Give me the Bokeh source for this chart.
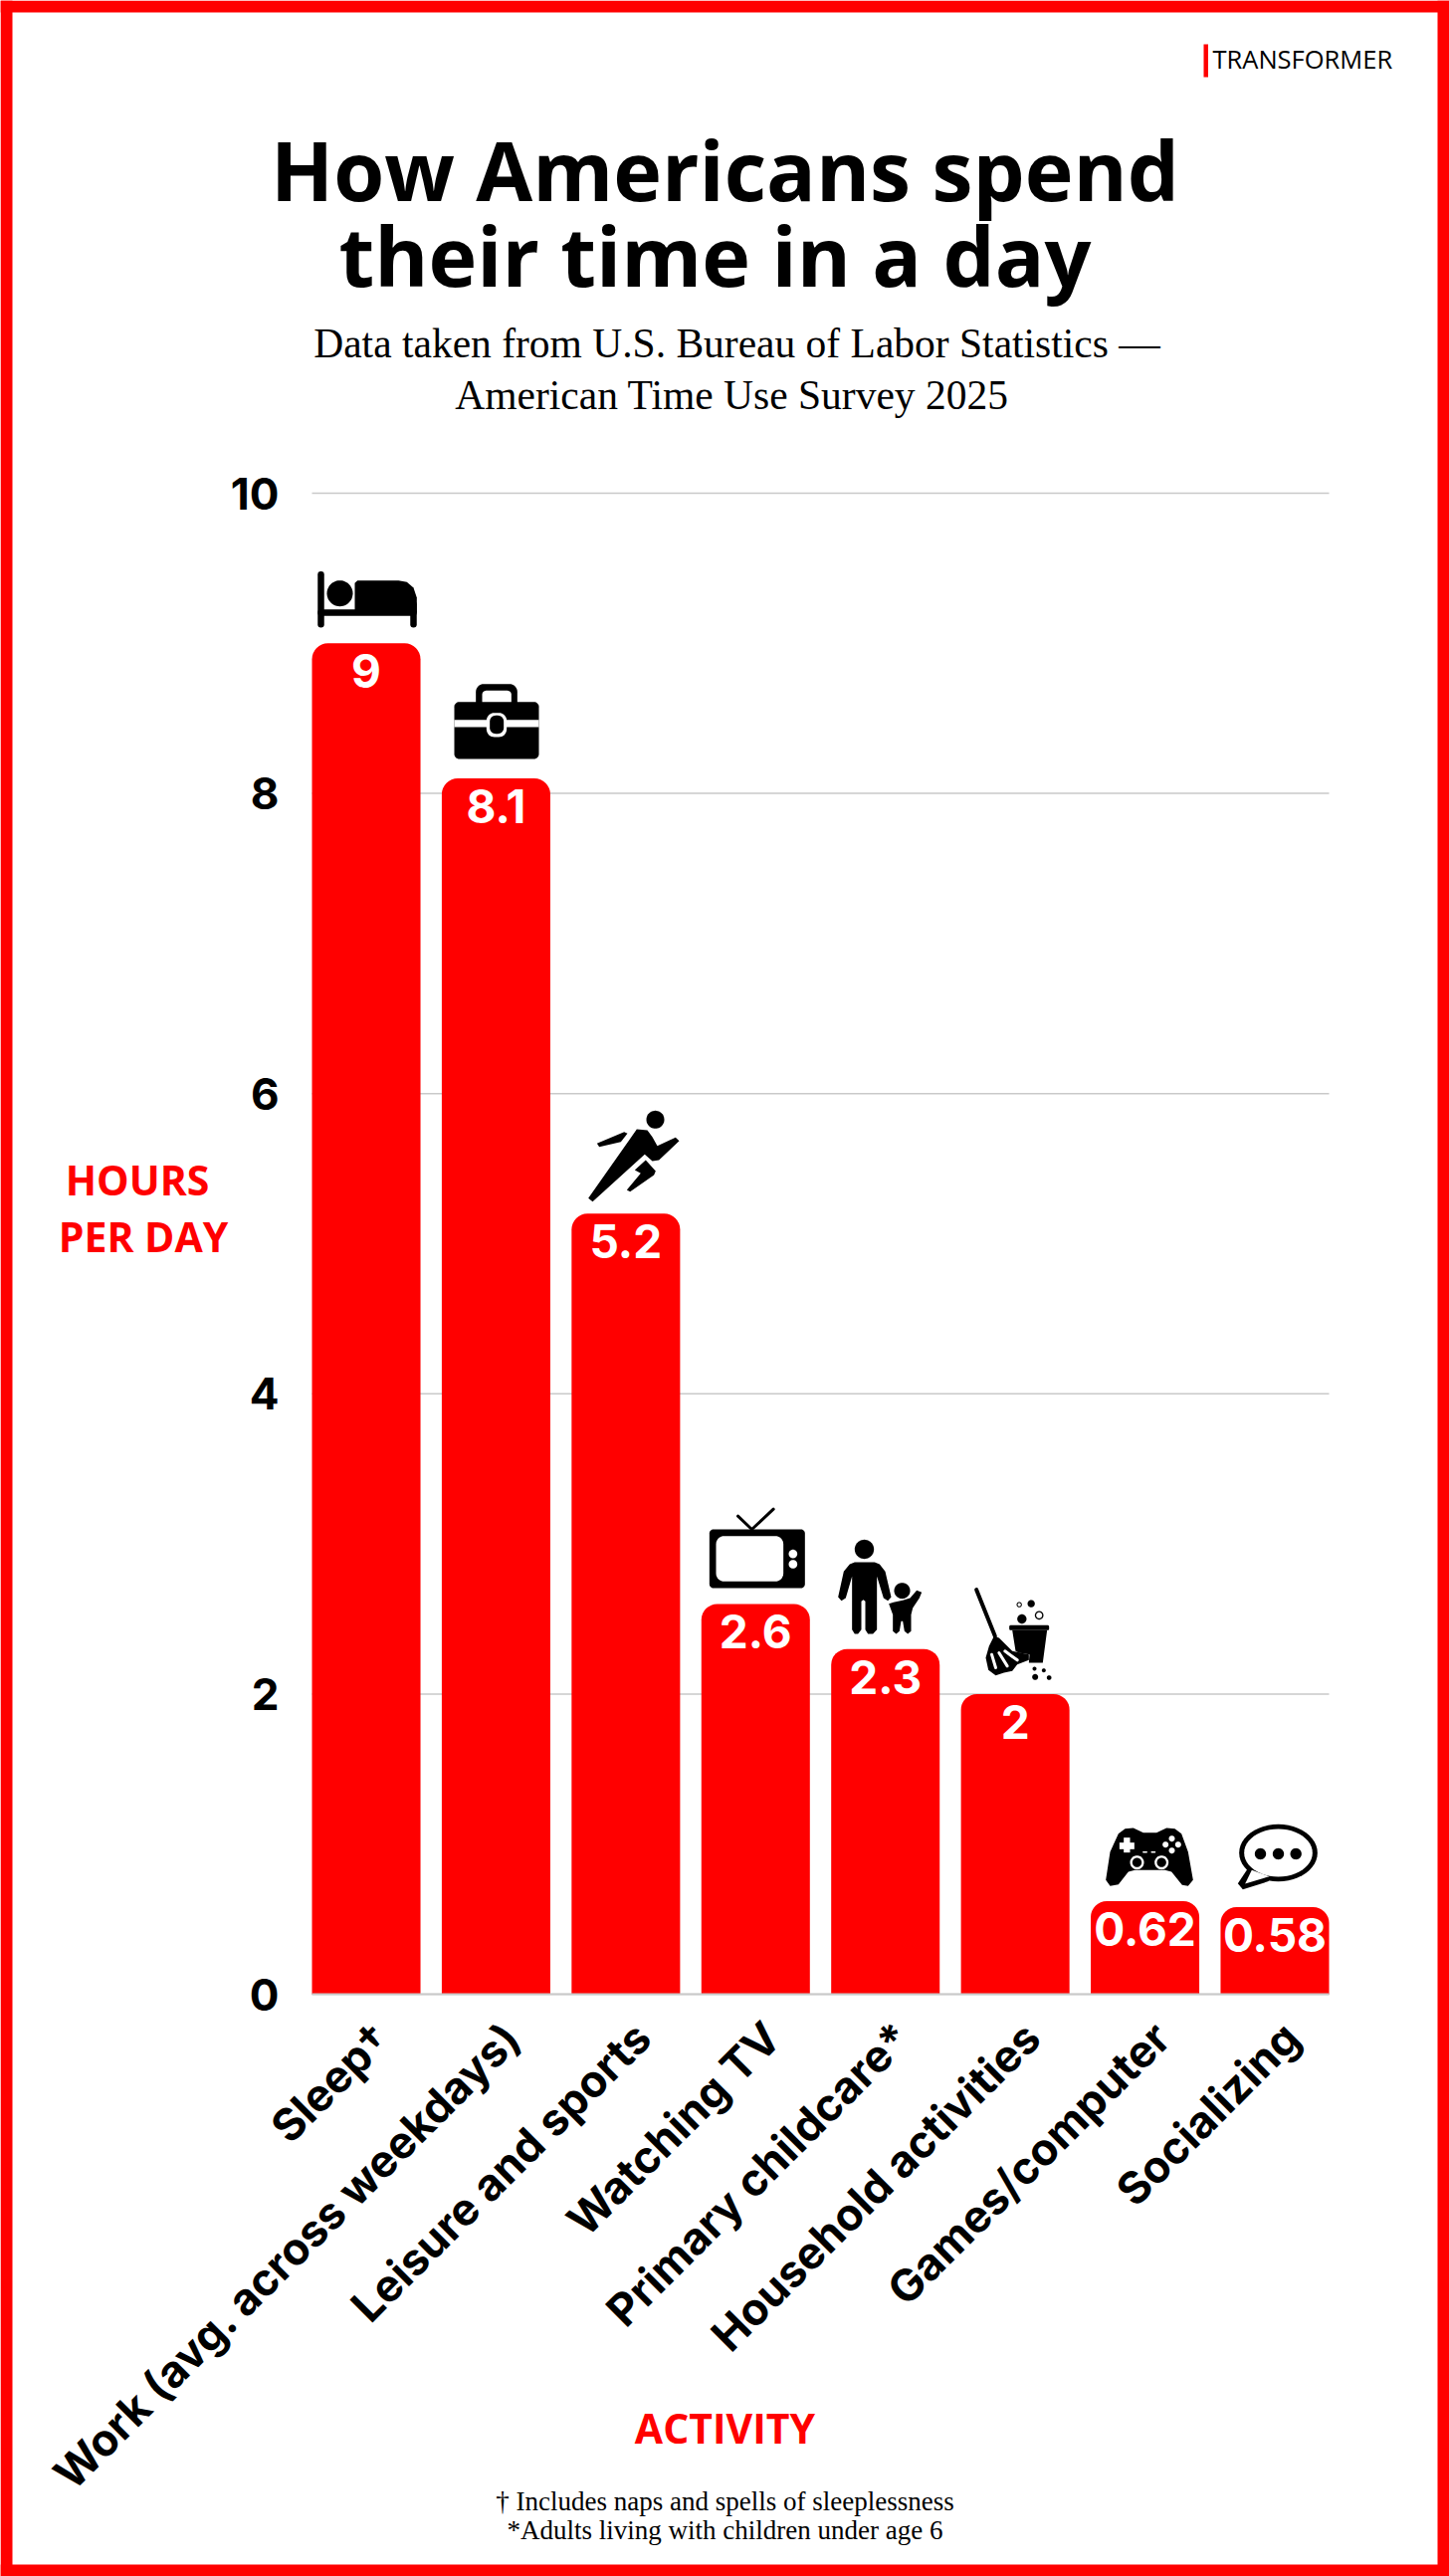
import math
from bokeh.core.properties import value
from bokeh.embed import file_html
from bokeh.models import FixedTicker, Range1d
from bokeh.plotting import figure
from bokeh.resources import INLINE

activities = ["Sleep†", "Work (avg. across weekdays)", "Leisure and sports", "Watching TV",
              "Primary childcare*", "Household activities", "Games/computer", "Socializing"]
hours = [9, 8.1, 5.2, 2.6, 2.3, 2, 0.62, 0.58]
hour_labels = ["9", "8.1", "5.2", "2.6", "2.3", "2", "0.62", "0.58"]
hour_ticks = [0, 2, 4, 6, 8, 10]
positions = list(range(len(activities)))

RED = "#ff0000"
W, H = 1456, 2588
LEFT, RIGHT, BOTTOM = 313, 1335, 2003
HOUR_PX = 150.8
BAR = 0.836
X0, X1 = -BAR / 2, len(activities) - 1 + BAR / 2


# the frame fills the page, so these turn page pixels into data values
def px(x):
    return X0 + (x - LEFT) * (X1 - X0) / (RIGHT - LEFT)


def py(y):
    return (BOTTOM - y) / HOUR_PX


p = figure(x_range=Range1d(px(0), px(W)), y_range=Range1d(py(H), py(0)), width=W, height=H,
           output_backend="svg", toolbar_location=None, min_border=0,
           background_fill_color="white", border_fill_color="white", outline_line_color=None)
# the page margin would push the red frame off the edge
p.styles = {"position": "absolute", "left": "0px", "top": "0px"}

p.grid.grid_line_color = None

p.yaxis.fixed_location = X0
p.yaxis.bounds = (0, 10)
p.yaxis.ticker = FixedTicker(ticks=hour_ticks)
p.yaxis.axis_line_color = None
p.yaxis.major_tick_line_color = None
p.yaxis.minor_tick_line_color = None
p.yaxis.major_label_standoff = 27
p.yaxis.major_label_text_font = "Inter"
p.yaxis.major_label_text_font_style = "bold"
p.yaxis.major_label_text_font_size = "44px"
p.yaxis.major_label_text_color = "black"

# labels hang a little right of each bar's centre; there are no tick marks to show it
label_ticks = [round(i + 0.13, 2) for i in positions]
p.xaxis.fixed_location = 0
p.xaxis.bounds = (X0, X1)
p.xaxis.ticker = FixedTicker(ticks=label_ticks)
p.xaxis.major_label_overrides = dict(zip(label_ticks, activities))
p.xaxis.axis_line_color = "#c9c9c9"
p.xaxis.axis_line_width = 2
p.xaxis.major_tick_line_color = None
p.xaxis.minor_tick_line_color = None
p.xaxis.major_label_orientation = math.pi / 4
p.xaxis.major_label_standoff = 30
p.xaxis.major_label_text_font = "Inter"
p.xaxis.major_label_text_font_style = "bold"
p.xaxis.major_label_text_font_size = "44.5px"
p.xaxis.major_label_text_color = "black"

# gridlines only across the bars, the frame being the whole page
p.segment(x0=[X0] * len(hour_ticks), x1=[X1] * len(hour_ticks), y0=hour_ticks, y1=hour_ticks,
          line_color="#c9c9c9", line_width=1.5)

p.vbar(x=positions, top=hours, width=BAR, fill_color=RED, line_color=None,
       border_radius=(16, 16, 0, 0))
p.text(x=positions, y=hours, text=hour_labels, y_offset=11, text_align="center", text_baseline="top",
       text_color="white", text_font=value("Inter"), text_font_style="bold", text_font_size="46px")


def oval(cx, cy, rx, ry=None, n=48):
    ry = rx if ry is None else ry
    return [(cx + rx * math.cos(2 * math.pi * i / n), cy + ry * math.sin(2 * math.pi * i / n)) for i in range(n)]


def round_box(x0, y0, x1, y1, r, n=8):
    pts = []
    for cx, cy, a in [(x1 - r, y0 + r, -90), (x1 - r, y1 - r, 0), (x0 + r, y1 - r, 90), (x0 + r, y0 + r, 180)]:
        for i in range(n + 1):
            t = math.radians(a + 90 * i / n)
            pts.append((cx + r * math.cos(t), cy + r * math.sin(t)))
    return pts


def shape(pts, color="black", ox=0, oy=0, k=3):
    p.patch([px(ox + x / k) for x, y in pts], [py(oy + y / k) for x, y in pts], fill_color=color, line_color=None)


def stroke(pts, width, color="black", ox=0, oy=0, k=3):
    p.line([px(ox + x / k) for x, y in pts], [py(oy + y / k) for x, y in pts], line_color=color, line_width=width,
           line_cap="round")


# bed
o = dict(ox=280, oy=540)
stroke([(126, 110), (126, 260)], 6.5, **o)
stroke([(405, 200), (405, 260)], 6.5, **o)
stroke([(126, 225), (405, 225)], 6.5, **o)
shape(oval(183, 167, 39), **o)
shape([(228, 225), (228, 136), (236, 128), (360, 128), (385, 133), (405, 150), (415, 180), (415, 225)], **o)

# briefcase
shape(round_box(593, 440, 718, 520, 24), **o)
shape(round_box(612, 460, 700, 520, 12), "white", **o)
shape(round_box(528, 494, 783, 666, 15), **o)
shape([(528, 548), (783, 548), (783, 570), (528, 570)], "white", **o)
shape(round_box(625, 527, 686, 600, 24), "white", **o)
shape(round_box(635, 535, 677, 590, 18), **o)

# runner
o = dict(ox=560, oy=1080)
shape(oval(294, 133, 27), **o)
shape([(92, 370), (215, 195), (238, 162), (270, 165), (285, 185), (300, 212), (355, 187), (366, 197),
       (305, 255), (285, 258), (262, 238), (105, 380)], **o)
shape([(118, 205), (200, 170), (210, 175), (190, 200), (125, 215)], **o)
shape([(265, 255), (295, 288), (290, 300), (218, 350), (208, 345), (250, 295), (232, 285)], **o)

# television
o = dict(ox=690, oy=1490)
stroke([(153, 98), (195, 138), (260, 77)], 3, **o)
shape(round_box(67, 138, 355, 315, 12), **o)
shape(round_box(87, 158, 290, 295, 25), "white", **o)
shape(oval(319, 212, 13), "white", **o)
shape(oval(319, 243, 13), "white", **o)

# parent and child
shape(oval(534, 198, 29), **o)
shape([(455, 342), (472, 265), (490, 243), (505, 237), (565, 237), (580, 243), (597, 265), (615, 342),
       (605, 353), (592, 345), (572, 280), (572, 440), (560, 453), (545, 453), (537, 440), (537, 355),
       (531, 350), (525, 355), (525, 440), (515, 453), (505, 453), (497, 440), (497, 280), (478, 345),
       (465, 353)], **o)
shape(oval(648, 323, 24), **o)
shape([(608, 362), (622, 358), (650, 352), (672, 345), (692, 322), (707, 328), (700, 345), (680, 375),
       (675, 395), (675, 445), (665, 453), (655, 445), (650, 415), (645, 415), (640, 445), (630, 453),
       (620, 445), (620, 395)], **o)

# mop and bucket
o = dict(ox=970, oy=1590)
stroke([(32, 20), (88, 160)], 4, **o)
shape([(85, 160), (100, 165), (140, 205), (190, 215), (190, 232), (155, 245), (140, 265), (115, 270),
       (90, 278), (68, 262), (60, 225), (70, 190)], **o)
shape([(140, 142), (245, 142), (232, 240), (190, 240), (192, 215), (160, 210), (150, 205)], **o)
shape(round_box(131, 127, 251, 142, 4), **o)
stroke([(78, 215), (90, 255)], 3, "white", **o)
stroke([(100, 210), (125, 250)], 3, "white", **o)
stroke([(118, 205), (155, 232)], 3, "white", **o)
shape(oval(169, 108, 14), **o)
shape(oval(197, 62, 11), **o)
shape(oval(221, 97, 13), **o)
shape(oval(221, 97, 9), "white", **o)
shape(oval(161, 65, 8), **o)
shape(oval(161, 65, 5), "white", **o)
for cx, cy, r in [(207, 258, 6), (235, 263, 6), (209, 283, 9), (251, 285, 7)]:
    shape(oval(cx, cy, r), **o)

# game controller
o = dict(ox=1080, oy=1800)
shape([(130, 125), (150, 110), (175, 108), (205, 122), (245, 122), (275, 108), (300, 110), (320, 125),
       (340, 180), (355, 265), (340, 283), (322, 280), (290, 240), (270, 235), (180, 235), (160, 240),
       (130, 278), (105, 283), (92, 265), (105, 180)], **o)
shape([(133, 152), (178, 152), (178, 172), (133, 172)], "white", **o)
shape([(146, 137), (165, 137), (165, 182), (146, 182)], "white", **o)
for cx, cy in [(291, 140), (272, 158), (310, 158), (291, 176)]:
    shape(oval(cx, cy, 9), "white", **o)
stroke([(205, 181), (215, 181)], 1.5, "white", **o)
stroke([(230, 181), (240, 181)], 1.5, "white", **o)
for cx in [186, 260]:
    shape(oval(cx, 212, 21), "white", **o)
    shape(oval(cx, 212, 14), **o)

# speech bubble
shape(oval(612, 183, 118, 86), **o)
shape([(520, 230), (490, 275), (505, 293), (585, 268)], **o)
shape(oval(612, 183, 103, 72), "white", **o)
shape([(532, 235), (512, 276), (585, 254)], "white", **o)
for cx in [558, 612, 665]:
    shape(oval(cx, 186, 17), **o)


def caption(x, y, text, size, font, style="normal", color="black", align="center"):
    # the svg text lands about 0.42em under the asked-for baseline
    p.text(x=[px(x)], y=[py(y - 0.42 * size)], text=[text], text_font=value(font), text_font_size=f"{size}px",
           text_font_style=style, text_color=color, text_align=align, text_baseline="alphabetic")


caption(728, 204, "How Americans spend", 82.5, "Open Sans", "bold")
caption(718, 290, "their time in a day", 82.5, "Open Sans", "bold")
caption(740, 362, "Data taken from U.S. Bureau of Labor Statistics —", 41.5, "Liberation Serif")
caption(735, 414, "American Time Use Survey 2025", 41.5, "Liberation Serif")
caption(1218, 69, "TRANSFORMER", 25.5, "Open Sans", align="left")
caption(137.5, 1202, "HOURS", 41, "Open Sans", "bold", RED)
caption(143.5, 1259, "PER DAY", 41, "Open Sans", "bold", RED)
caption(728, 2456, "ACTIVITY", 41, "Open Sans", "bold", RED)
caption(728, 2524, "† Includes naps and spells of sleeplessness", 27, "Liberation Serif")
caption(728, 2553, "*Adults living with children under age 6", 27, "Liberation Serif")

# red page frame and the small rule beside the logo
for left, right, top, bottom in [(0, W, 0, 12), (0, W, H - 12, H), (0, 12, 0, H), (W - 12, W, 0, H),
                                 (1209, 1213.5, 44, 77)]:
    shape([(left, top), (right, top), (right, bottom), (left, bottom)], RED, k=1)

open("out.html", "w").write(file_html(p, INLINE))
